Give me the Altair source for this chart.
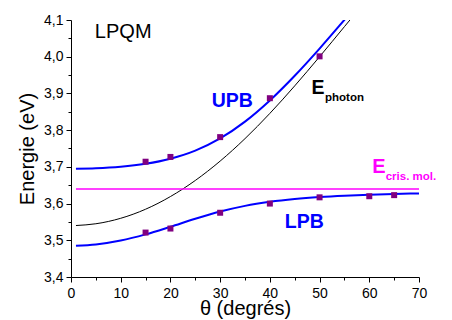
import altair as alt
import pandas as pd

# ---- data ----
theta_upper = [1, 5, 10, 15, 20, 25, 30, 35, 40, 45, 50, 55, 57]
upb_curve = [3.6949, 3.6962, 3.7004, 3.7085, 3.7223, 3.7443, 3.7775, 3.8232,
             3.8809, 3.9482, 4.0222, 4.1004, 4.1320]
photon_curve = [3.5402, 3.5450, 3.5599, 3.5846, 3.6191, 3.6629, 3.7157, 3.7769,
                3.8456, 3.9206, 4.0000, 4.0819, 4.1147]
theta_lower = [1, 5, 10, 15, 20, 25, 30, 35, 40, 45, 50, 55, 60, 65, 70]
lpb_curve = [3.4853, 3.4888, 3.4995, 3.5161, 3.5368, 3.5586, 3.5782, 3.5937,
             3.6047, 3.6124, 3.6178, 3.6216, 3.6243, 3.6262, 3.6276]
theta_exc = [1, 70]
exc_line = [3.64, 3.64]

theta_upb_pts = [15, 20, 30, 40, 50]
upb_pts = [3.714, 3.727, 3.781, 3.887, 4.001]
theta_lpb_pts = [15, 20, 30, 40, 50, 60, 65]
lpb_pts = [3.521, 3.532, 3.575, 3.600, 3.617, 3.620, 3.623]

x_ticks = list(range(0, 75, 5))
y_ticks = [round(3.4 + 0.05 * i, 2) for i in range(15)]

FONT = "Liberation Sans"

xs = alt.Scale(domain=[0, 70], nice=False, zero=False)
ys = alt.Scale(domain=[3.4, 4.1], nice=False, zero=False)

x_axis = alt.Axis(
    title="θ (degrés)", values=x_ticks, grid=False,
    labelExpr="datum.value % 10 === 0 ? datum.label : ''",
    tickSize={"condition": {"test": "datum.value % 10 === 0", "value": 5}, "value": 3},
    labelPadding=4, titlePadding=-2, labelFlush=False, format="d",
)
y_axis = alt.Axis(
    title="Energie (eV)", values=y_ticks, grid=False,
    labelExpr="round(datum.value*100) % 10 === 0 ? replace(format(datum.value, '.1f'), '.', ',') : ''",
    tickSize={"condition": {"test": "round(datum.value*100) % 10 === 0", "value": 5}, "value": 3},
    labelPadding=3, titlePadding=6, labelFlush=False,
)

X = lambda: alt.X("theta:Q", scale=xs, axis=x_axis)
Y = lambda: alt.Y("E:Q", scale=ys, axis=y_axis)


def line_df(t, v):
    return pd.DataFrame({"theta": t, "E": v})


def line(t, v, color, width):
    return alt.Chart(line_df(t, v)).mark_line(
        color=color, strokeWidth=width, clip=True, interpolate="monotone"
    ).encode(x=X(), y=Y())


upb = line(theta_upper, upb_curve, "#0000FF", 2)
photon = line(theta_upper, photon_curve, "#000000", 1)
lpb = line(theta_lower, lpb_curve, "#0000FF", 2)
exc = line(theta_exc, exc_line, "#FF00FF", 1.5)

pts_df = pd.concat([line_df(theta_upb_pts, upb_pts), line_df(theta_lpb_pts, lpb_pts)])
pts = alt.Chart(pts_df).mark_square(size=36, color="#800080", opacity=1, clip=True).encode(
    x=X(), y=Y()
)


def label(txt, t, e, color, size, weight="normal"):
    return alt.Chart(pd.DataFrame({"theta": [t], "E": [e], "txt": [txt]})).mark_text(
        align="left", baseline="alphabetic", font=FONT, fontSize=size,
        fontWeight=weight, color=color
    ).encode(x=X(), y=Y(), text="txt:N")


texts = [
    label("LPQM", 4.8, 4.052, "#000000", 20),
    label("UPB", 28.3, 3.863, "#0000FF", 19.5, "bold"),
    label("LPB", 43.0, 3.5343, "#0000FF", 19.5, "bold"),
    label("E", 48.4, 3.8995, "#000000", 19.5, "bold"),
    label("photon", 51.1, 3.8785, "#000000", 11.5, "bold"),
    label("E", 60.6, 3.683, "#FF00FF", 20, "bold"),
    label("cris. mol.", 63.3, 3.665, "#FF00FF", 11.5, "bold"),
]

chart = alt.layer(upb, photon, lpb, exc, pts, *texts).properties(
    width=348, height=257,
    autosize=alt.AutoSizeParams(type="none"),
    padding={"left": 63, "top": 12, "right": 25, "bottom": 43},
).configure_view(stroke=None).configure_axis(
    labelFont=FONT, labelFontSize=14, labelColor="#000000",
    titleFont=FONT, titleFontSize=20, titleFontWeight="normal", titleColor="#000000",
    domainColor="#000000", tickColor="#000000", domainWidth=1, tickWidth=1,
)

chart.save("out.html", embed_options={"renderer": "svg", "actions": False})
